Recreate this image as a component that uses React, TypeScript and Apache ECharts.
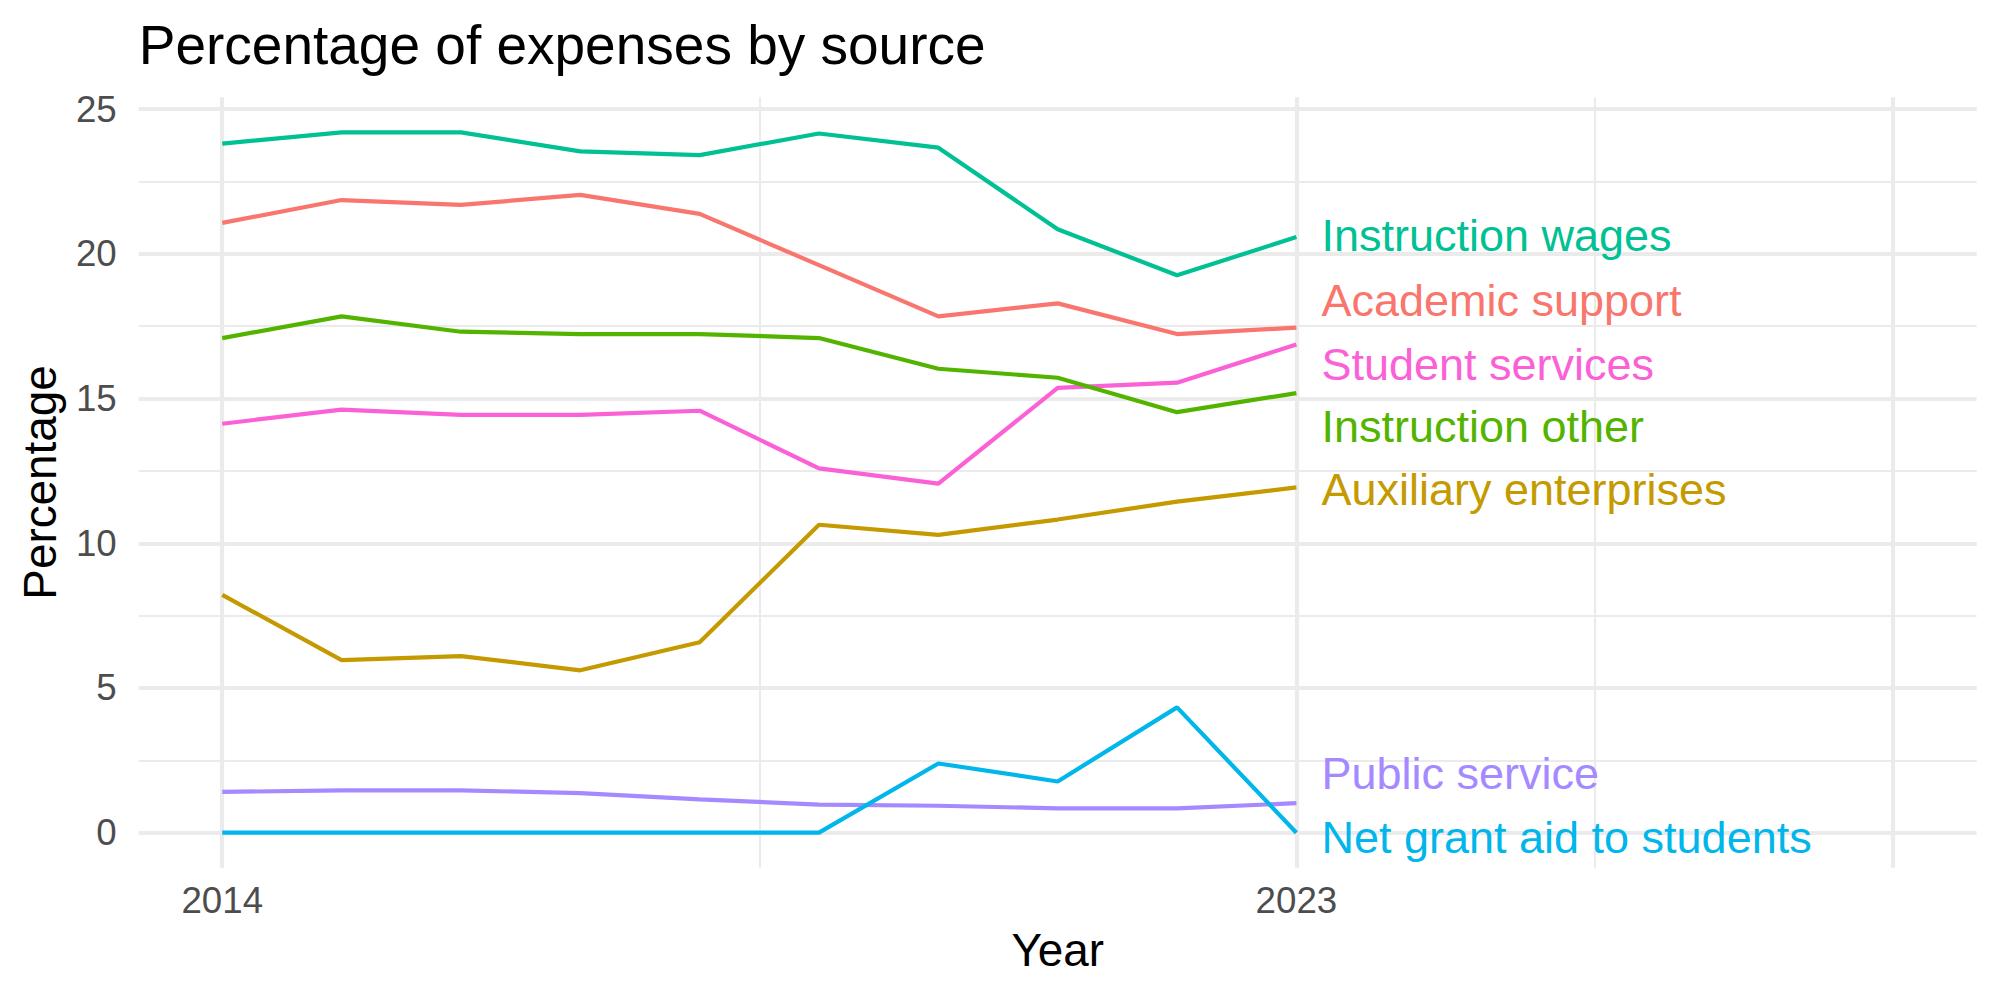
import React, { useEffect, useRef } from "react";
import * as echarts from "echarts";

// Fiscal years on the x axis
const years = [2014, 2015, 2016, 2017, 2018, 2019, 2020, 2021, 2022, 2023];

// Share of total expenses (%) per source, one value per year
const instructionWages = [23.81, 24.2, 24.2, 23.54, 23.41, 24.16, 23.67, 20.85, 19.26, 20.58];
const academicSupport = [21.07, 21.86, 21.69, 22.04, 21.38, 19.61, 17.84, 18.29, 17.23, 17.45];
const studentServices = [14.13, 14.62, 14.44, 14.44, 14.58, 12.59, 12.06, 15.37, 15.55, 16.87];
const instructionOther = [17.09, 17.84, 17.31, 17.23, 17.23, 17.09, 16.03, 15.72, 14.53, 15.19];
const auxiliaryEnterprises = [8.22, 5.96, 6.1, 5.61, 6.58, 10.64, 10.29, 10.82, 11.44, 11.93];
const publicService = [1.41, 1.46, 1.46, 1.37, 1.15, 0.97, 0.93, 0.84, 0.84, 1.02];
const netGrantAid = [0, 0, 0, 0, 0, 0, 2.39, 1.77, 4.33, 0];

const sourceNames = [
  "Instruction wages",
  "Academic support",
  "Student services",
  "Instruction other",
  "Auxiliary enterprises",
  "Public service",
  "Net grant aid to students",
];
const sourceValues = [
  instructionWages,
  academicSupport,
  studentServices,
  instructionOther,
  auxiliaryEnterprises,
  publicService,
  netGrantAid,
];
// Where each end-of-line label sits (in percentage units), spread apart so they don't collide
const labelAt = [20.64, 18.38, 16.18, 14.02, 11.86, 2.04, -0.18];
const sourceColors = ["#00C094", "#F8766D", "#FB61D7", "#53B400", "#C49A00", "#A58AFF", "#00B6EB"];

// Axis ticks and grid lines
const xTicks = [2014, 2023];
const xMajorGrid = [2014, 2023, 2028];
const xMinorGrid = [2018.5, 2025.5];
const xLimits = [2014, 2028];
const yTicks = [0, 5, 10, 15, 20, 25];
const yMinorGrid = [2.5, 7.5, 12.5, 17.5, 22.5];

const FONT = '"Liberation Sans", Arial, Helvetica, sans-serif';

function expand(lo: number, hi: number, mult = 0.05): [number, number] {
  const pad = (hi - lo) * mult;
  return [lo - pad, hi + pad];
}

export default function App() {
  const ref = useRef<HTMLDivElement>(null);

  useEffect(() => {
    document.body.style.margin = "0";
    if (!ref.current) return;
    const chart = echarts.init(ref.current, undefined, { renderer: "svg" });

    const allValues = sourceValues.flat();
    const [yMin, yMax] = expand(Math.min(...allValues), Math.max(...allValues));
    const [xMin, xMax] = expand(xLimits[0], xLimits[1]);

    const gridColor = "#EBEBEB";
    const majorW = 4.2;
    const minorW = 2.1;

    const gridLines = [
      ...yTicks.map((v) => ({ yAxis: v, lineStyle: { width: majorW } })),
      ...yMinorGrid.map((v) => ({ yAxis: v, lineStyle: { width: minorW } })),
      ...xMajorGrid.map((v) => ({ xAxis: v, lineStyle: { width: majorW } })),
      ...xMinorGrid.map((v) => ({ xAxis: v, lineStyle: { width: minorW } })),
    ];

    const lineSeries = sourceNames.map((name, i) => ({
      type: "line",
      name,
      z: 3,
      data: years.map((y, j) => [y, sourceValues[i][j]]),
      showSymbol: false,
      symbol: "none",
      silent: true,
      lineStyle: { color: sourceColors[i], width: 4.2 },
      itemStyle: { color: sourceColors[i] },
      emphasis: { disabled: true },
      markPoint: {
        silent: true,
        z: 4,
        symbol: "circle",
        symbolSize: 0,
        itemStyle: { color: "transparent" },
        label: {
          show: true,
          position: "right",
          distance: 25,
          formatter: name,
          color: sourceColors[i],
          fontSize: 45,
          fontFamily: FONT,
        },
        data: [{ coord: [years[years.length - 1], labelAt[i]] }],
      },
    }));

    chart.setOption({
      animation: false,
      grid: { left: 138.7, right: 23.3, top: 97.3, bottom: 132.3, containLabel: false },
      xAxis: {
        type: "value",
        min: xMin,
        max: xMax,
        axisLine: { show: false },
        axisTick: { show: false },
        splitLine: { show: false },
        axisLabel: {
          customValues: xTicks,
          formatter: (v: number) => String(v),
          fontSize: 36.7,
          color: "#4D4D4D",
          fontFamily: FONT,
          margin: 14,
        },
      },
      yAxis: {
        type: "value",
        min: yMin,
        max: yMax,
        axisLine: { show: false },
        axisTick: { show: false },
        splitLine: { show: false },
        axisLabel: {
          customValues: yTicks,
          formatter: (v: number) => String(v),
          fontSize: 36.7,
          color: "#4D4D4D",
          fontFamily: FONT,
          margin: 22,
        },
      },
      graphic: [
        {
          type: "text",
          x: 138.7,
          y: 44.7,
          style: {
            text: "Percentage of expenses by source",
            fontSize: 55,
            fontFamily: FONT,
            fill: "#000000",
            align: "left",
            verticalAlign: "middle",
          },
        },
        {
          type: "text",
          x: 1057.7,
          y: 950,
          style: {
            text: "Year",
            fontSize: 45.8,
            fontFamily: FONT,
            fill: "#000000",
            align: "center",
            verticalAlign: "middle",
          },
        },
        {
          type: "text",
          x: 40,
          y: 482.5,
          rotation: Math.PI / 2,
          style: {
            text: "Percentage",
            fontSize: 45.8,
            fontFamily: FONT,
            fill: "#000000",
            align: "center",
            verticalAlign: "middle",
          },
        },
      ],
      series: [
        {
          type: "line",
          name: "grid",
          z: 1,
          data: [],
          silent: true,
          markLine: {
            silent: true,
            z: 1,
            symbol: ["none", "none"],
            label: { show: false },
            emphasis: { disabled: true },
            lineStyle: { color: gridColor, type: "solid", width: majorW },
            data: gridLines,
          },
        },
        ...lineSeries,
      ],
    });

    return () => chart.dispose();
  }, []);

  return <div ref={ref} style={{ width: 2000, height: 1000 }} />;
}
